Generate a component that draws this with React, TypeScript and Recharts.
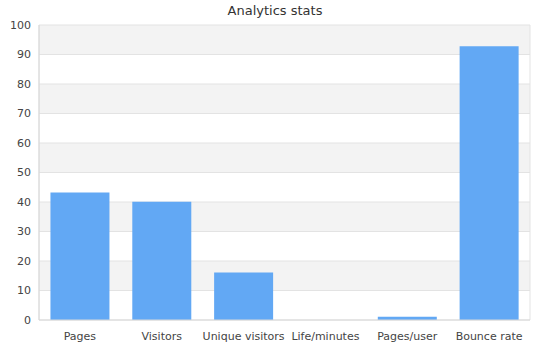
import { Bar, BarChart, CartesianGrid, XAxis, YAxis } from "recharts";

const categories = ["Pages", "Visitors", "Unique visitors", "Life/minutes", "Pages/user", "Bounce rate"];
const values = [43.2, 40.1, 16.1, 0, 1.1, 92.8];
const yTicks = [0, 10, 20, 30, 40, 50, 60, 70, 80, 90, 100];

const data = categories.map((name, i) => ({ name, value: values[i] }));

const FONT = "'DejaVu Sans', Verdana, sans-serif";

export default function App() {
  return (
    <div style={{ position: "absolute", left: 0, top: 0, width: 550, height: 350, fontFamily: FONT }}>
      <div
        style={{
          position: "absolute",
          top: 3,
          left: 0,
          width: 550,
          textAlign: "center",
          fontSize: 13,
          color: "#333",
        }}
      >
        Analytics stats
      </div>
      <BarChart
        width={550}
        height={350}
        data={data}
        margin={{ top: 25, right: 20, bottom: 0, left: 0 }}
        barCategoryGap="14%"
      >
        <CartesianGrid
          stroke="#e3e3e3"
          horizontalFill={["#f3f3f3", "#ffffff"]}
          verticalCoordinatesGenerator={({ offset }: any) => [offset.left, offset.left + offset.width]}
        />
        <XAxis
          dataKey="name"
          height={30}
          interval={0}
          tickLine={false}
          axisLine={{ stroke: "#d8d8d8" }}
          tick={{ fill: "#444", fontSize: 11, fontFamily: FONT }}
          tickMargin={6}
        />
        <YAxis
          width={39}
          domain={[0, 100]}
          ticks={yTicks}
          interval={0}
          tickLine={false}
          axisLine={{ stroke: "#d8d8d8" }}
          tick={{ fill: "#444", fontSize: 11, fontFamily: FONT }}
          tickMargin={2}
        />
        <Bar dataKey="value" fill="#62a8f4" isAnimationActive={false} />
      </BarChart>
    </div>
  );
}
